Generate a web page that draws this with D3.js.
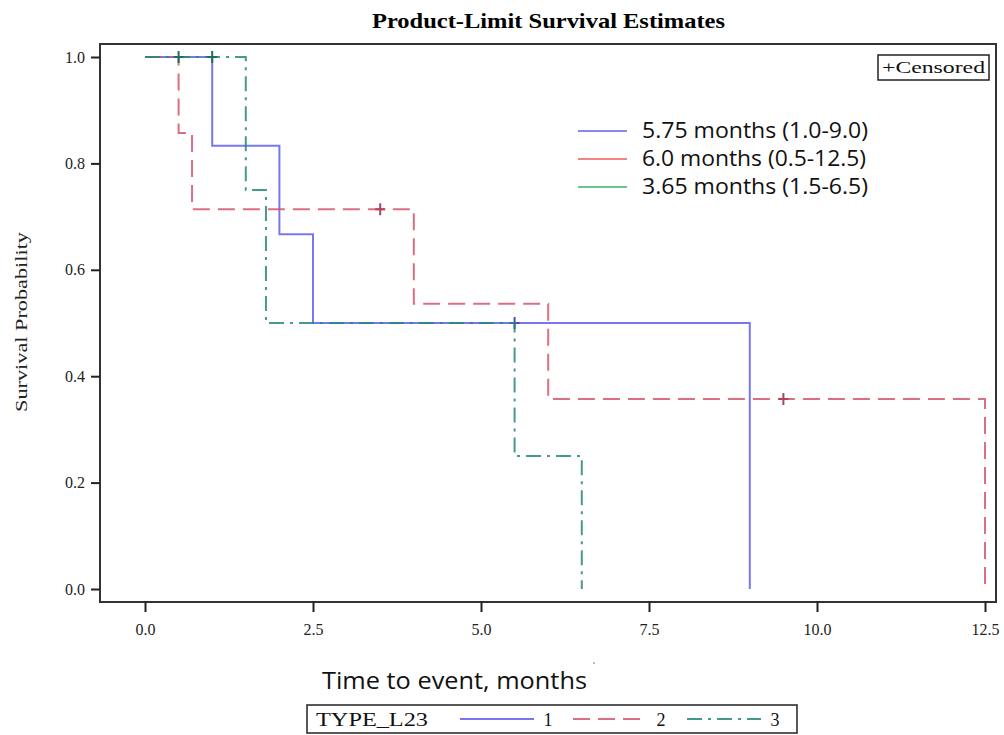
<!DOCTYPE html>
<html>
<head>
<meta charset="utf-8">
<script src="https://cdn.jsdelivr.net/npm/d3@7"></script>
<style>
  body { margin: 0; background: #fff; }
  svg { display: block; }
</style>
</head>
<body>
<script>
// survival step points per group (time, probability)
var times1 = [0, 1, 2, 2.5, 9];
var surv1  = [1, 0.8333, 0.6667, 0.5, 0];
var times2 = [0, 0.5, 0.7, 4, 6, 12.5];
var surv2  = [1, 0.857, 0.714, 0.536, 0.357, 0];
var times3 = [0, 1.5, 1.8, 5.5, 6.5];
var surv3  = [1, 0.75, 0.5, 0.25, 0];

// censored observations
var cens1T = [5.5], cens1S = [0.5];
var cens2T = [3.5, 9.5], cens2S = [0.714, 0.357];
var cens3T = [0.5, 1.0], cens3S = [1, 1];

var groupNames = ["1", "2", "3"];
var medianLabels = ["5.75 months (1.0-9.0)", "6.0 months (0.5-12.5)", "3.65 months (1.5-6.5)"];
var xTicks = [0, 2.5, 5, 7.5, 10, 12.5];
var yTicks = [0, 0.2, 0.4, 0.6, 0.8, 1.0];

var curveColors = ["#5f5ff0", "#d4566c", "#26877a"];
var legendColors = ["#6060f0", "#f05a5a", "#3cb06a"];
var dashes = [null, "17,8", "15,6,3,6"];

var serif = "Liberation Serif, Times New Roman, serif";
var sans = "Open Sans, Noto Sans, sans-serif";

var W = 1004, H = 735;
var svg = d3.select("body").append("svg").attr("width", W).attr("height", H);

var x = d3.scaleLinear().domain([0, 12.5]).range([145, 985]);
var y = d3.scaleLinear().domain([0, 1]).range([589, 57]);

// title
svg.append("text").attr("x", 372).attr("y", 28)
  .attr("textLength", 353).attr("lengthAdjust", "spacingAndGlyphs")
  .style("font-family", serif)
  .style("font-weight", "bold").style("font-size", "21px")
  .text("Product-Limit Survival Estimates");

// frame
svg.append("rect").attr("x", 100).attr("y", 44).attr("width", 896).attr("height", 558)
  .attr("fill", "none").attr("stroke", "#333").attr("stroke-width", 2);

// axes
var yAxis = d3.axisLeft(y).tickValues(yTicks).tickFormat(d3.format(".1f")).tickSize(9).tickPadding(6);
var gy = svg.append("g").attr("transform", "translate(100,0)").call(yAxis);
gy.select(".domain").remove();
gy.selectAll("line").attr("stroke", "#222").attr("stroke-width", 2);
gy.selectAll("text").style("font-family", serif)
  .style("font-size", "16px").attr("fill", "#222");

var xAxis = d3.axisBottom(x).tickValues(xTicks).tickFormat(d3.format(".1f")).tickSize(10).tickPadding(12);
var gx = svg.append("g").attr("transform", "translate(0,602)").call(xAxis);
gx.select(".domain").remove();
gx.selectAll("line").attr("stroke", "#222").attr("stroke-width", 2);
gx.selectAll("text").style("font-family", serif)
  .style("font-size", "16px").attr("fill", "#222");

// axis labels
svg.append("text")
  .attr("transform", "translate(27,412) rotate(-90)")
  .attr("textLength", 180).attr("lengthAdjust", "spacingAndGlyphs")
  .style("font-family", serif)
  .style("font-size", "17px").attr("fill", "#222")
  .text("Survival Probability");

svg.append("text").attr("x", 322).attr("y", 689)
  .attr("textLength", 265).attr("lengthAdjust", "spacingAndGlyphs")
  .style("font-family", sans)
  .style("font-size", "23px").attr("fill", "#111")
  .text("Time to event, months");
svg.append("circle").attr("cx", 594).attr("cy", 663).attr("r", 0.8).attr("fill", "#666");

// curves
var curves = [
  { t: times1, s: surv1, ct: cens1T, cs: cens1S },
  { t: times2, s: surv2, ct: cens2T, cs: cens2S },
  { t: times3, s: surv3, ct: cens3T, cs: cens3S }
];

var line = d3.line()
  .x(function (d) { return x(d[0]); })
  .y(function (d) { return y(d[1]); })
  .curve(d3.curveStepAfter);

curves.forEach(function (c, i) {
  var pts = c.t.map(function (t, j) { return [t, c.s[j]]; });
  svg.append("path").datum(pts)
    .attr("d", line)
    .attr("fill", "none")
    .attr("stroke", curveColors[i])
    .attr("stroke-width", 2)
    .attr("stroke-dasharray", dashes[i])
    .attr("opacity", 0.85);
  c.ct.forEach(function (t, j) {
    var cx = x(t), cy = y(c.cs[j]);
    svg.append("path")
      .attr("d", "M" + (cx - 5) + "," + cy + "H" + (cx + 5) + "M" + cx + "," + (cy - 6) + "V" + (cy + 6))
      .attr("stroke", d3.color(curveColors[i]).darker(0.6))
      .attr("stroke-width", 2);
  });
});

// inner legend with medians
medianLabels.forEach(function (lab, i) {
  var ly = 131 + i * 28;
  svg.append("line").attr("x1", 578).attr("x2", 627).attr("y1", ly).attr("y2", ly)
    .attr("stroke", legendColors[i]).attr("stroke-width", 1.5);
  svg.append("text").attr("x", 642).attr("y", ly + 7)
    .attr("textLength", i === 1 ? 224 : 226).attr("lengthAdjust", "spacingAndGlyphs")
    .style("font-family", sans)
    .style("font-size", "21px").attr("fill", "#111")
    .text(lab);
});

// censored box
svg.append("rect").attr("x", 878).attr("y", 55).attr("width", 111).attr("height", 25)
  .attr("fill", "#fff").attr("stroke", "#222").attr("stroke-width", 1.5);
svg.append("text").attr("x", 882).attr("y", 73)
  .attr("textLength", 103).attr("lengthAdjust", "spacingAndGlyphs")
  .style("font-family", serif)
  .style("font-size", "17px").attr("fill", "#111")
  .text("+Censored");

// bottom legend
svg.append("rect").attr("x", 307).attr("y", 705).attr("width", 490).attr("height", 28)
  .attr("fill", "#fff").attr("stroke", "#222").attr("stroke-width", 1.5);
svg.append("text").attr("x", 316).attr("y", 726)
  .attr("textLength", 112).attr("lengthAdjust", "spacingAndGlyphs")
  .style("font-family", serif)
  .style("font-size", "18px").attr("fill", "#111")
  .text("TYPE_L23");
var legX = [460, 573, 687];
groupNames.forEach(function (g, i) {
  svg.append("line").attr("x1", legX[i]).attr("x2", legX[i] + 74).attr("y1", 719).attr("y2", 719)
    .attr("stroke", curveColors[i]).attr("stroke-width", 2)
    .attr("stroke-dasharray", dashes[i]).attr("opacity", 0.85);
  svg.append("text").attr("x", legX[i] + 88).attr("y", 726)
    .attr("text-anchor", "middle")
    .style("font-family", serif)
    .style("font-size", "18px").attr("fill", "#111")
    .text(g);
});
</script>
</body>
</html>
